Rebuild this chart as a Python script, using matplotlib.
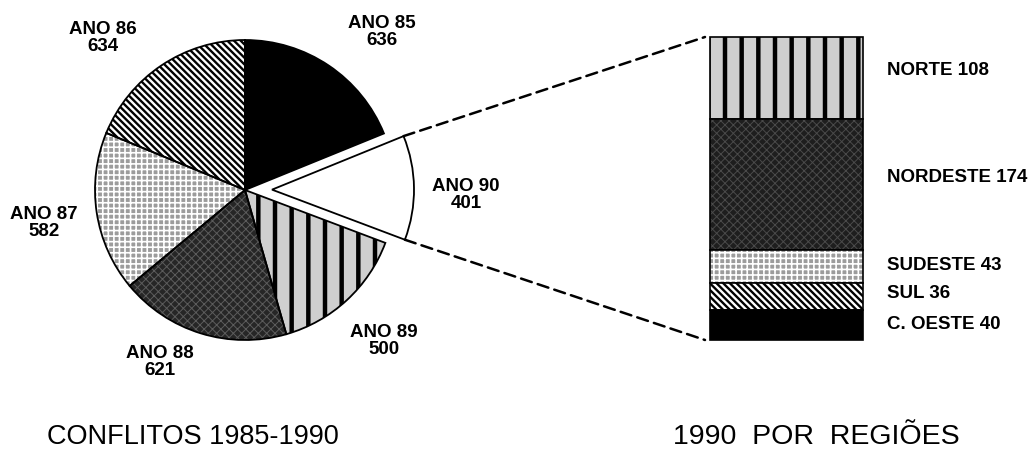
import matplotlib
matplotlib.use("Agg")
import numpy as np
import matplotlib.pyplot as plt
import matplotlib.patches as mpatches
from matplotlib.patches import ConnectionPatch

# dados
anos = ["ANO 85", "ANO 86", "ANO 87", "ANO 88", "ANO 89", "ANO 90"]
conflitos = [636, 634, 582, 621, 500, 401]
regioes = ["NORTE", "NORDESTE", "SUDESTE", "SUL", "C. OESTE"]
conflitos_1990 = [108, 174, 43, 36, 40]

W, H = 1035, 455
plt.rcParams["font.family"] = ["Liberation Sans", "DejaVu Sans"]

# texturas (tipo -> face, hatch, cor do hatch, espessura)
styles = {
    "black": ("black", None, None, 0),
    "diag": ("white", "\\\\\\\\\\", "black", 1.7),
    "light": ("#9c9c9c", "+++", "white", 1.2),
    "dark": ("#262626", "xxxx", "#5c5c5c", 0.7),
    "darker": ("#1e1e1e", "xxxx", "#4a4a4a", 0.7),
    "vert": ("#cfcfcf", "|", "black", 3.2),
    "white": ("white", None, None, 0),
}
pie_styles = ["black", "diag", "light", "dark", "vert", "white"]
bar_styles = ["vert", "darker", "light", "diag", "black"]


def texture(p, kind):
    face, hatch, hc, hlw = styles[kind]
    p.set_facecolor(face)
    p.set_linewidth(0)
    if hatch:
        with plt.rc_context({"hatch.linewidth": hlw}):
            p.set_edgecolor(hc)
            p.set_hatch(hatch)
        if hasattr(p, "set_hatch_linewidth"):
            p.set_hatch_linewidth(hlw)
    else:
        p.set_edgecolor(face)


fig = plt.figure(figsize=(W / 100, H / 100), dpi=100)
ax = fig.add_axes([0, 0, 1, 1])

# pizza
center = (245, H - 190)
start = 90 - 360 * conflitos[0] / sum(conflitos)
explode = [0, 0, 0, 0, 0, 27]
wedges, _ = ax.pie(conflitos, center=center, radius=150, startangle=start,
                   counterclock=True, explode=explode)
wedges[5].set_radius(142)
for w, k in zip(wedges, pie_styles):
    texture(w, k)
    ax.add_patch(mpatches.Wedge(w.center, w.r, w.theta1, w.theta2, fill=False,
                                edgecolor="black", linewidth=1.3, clip_on=False))

ax.set_xlim(0, W)
ax.set_ylim(0, H)
ax.set_aspect("equal")
ax.axis("off")

label_pos = [(382, 32), (103, 38), (44, 223), (160, 362), (384, 341), (466, 195)]
for name, v, (lx, ly) in zip(anos, conflitos, label_pos):
    ax.text(lx, H - ly, f"{name}\n{v}", ha="center", va="center",
            fontsize=13.5, fontweight="bold", linespacing=0.95)

# barra 1990
bx = fig.add_axes([710 / W, (H - 340) / H, 153 / W, 303 / H])
total = sum(conflitos_1990)
bottoms = total - np.cumsum(conflitos_1990)
label_dy = [7, 7, 1, 3, 0]  # ajuste vertical dos rótulos (px)
for name, v, b, k, dy in zip(regioes, conflitos_1990, bottoms, bar_styles, label_dy):
    r = bx.bar(0, v, bottom=b, width=1)[0]
    texture(r, k)
    bx.bar(0, v, bottom=b, width=1, fill=False, edgecolor="black",
           linewidth=1.2, clip_on=False)
    bx.text(177 / 153, b + v / 2 + dy * total / 303, f"{name} {v}",
            transform=bx.get_yaxis_transform(),
            ha="left", va="center", fontsize=13.5, fontweight="bold")
bx.set_xlim(-0.5, 0.5)
bx.set_ylim(0, total)
bx.axis("off")

# linhas tracejadas
w90 = wedges[5]
for theta, yb in [(w90.theta2, 1), (w90.theta1, 0)]:
    px = w90.center[0] + w90.r * np.cos(np.radians(theta))
    py = w90.center[1] + w90.r * np.sin(np.radians(theta))
    con = ConnectionPatch(xyA=(px, py), coordsA=ax.transData,
                          xyB=(-5 / 153, yb), coordsB=bx.transAxes,
                          color="black", linewidth=1.8, linestyle=(0, (4.5, 2.5)))
    fig.add_artist(con)

ax.text(193, H - 437, "CONFLITOS 1985-1990", ha="center", va="center", fontsize=19.5)
ax.text(816, H - 437, "1990  POR  REGIÕES", ha="center", va="center", fontsize=20.5)

fig.savefig("out.png", dpi=100)
